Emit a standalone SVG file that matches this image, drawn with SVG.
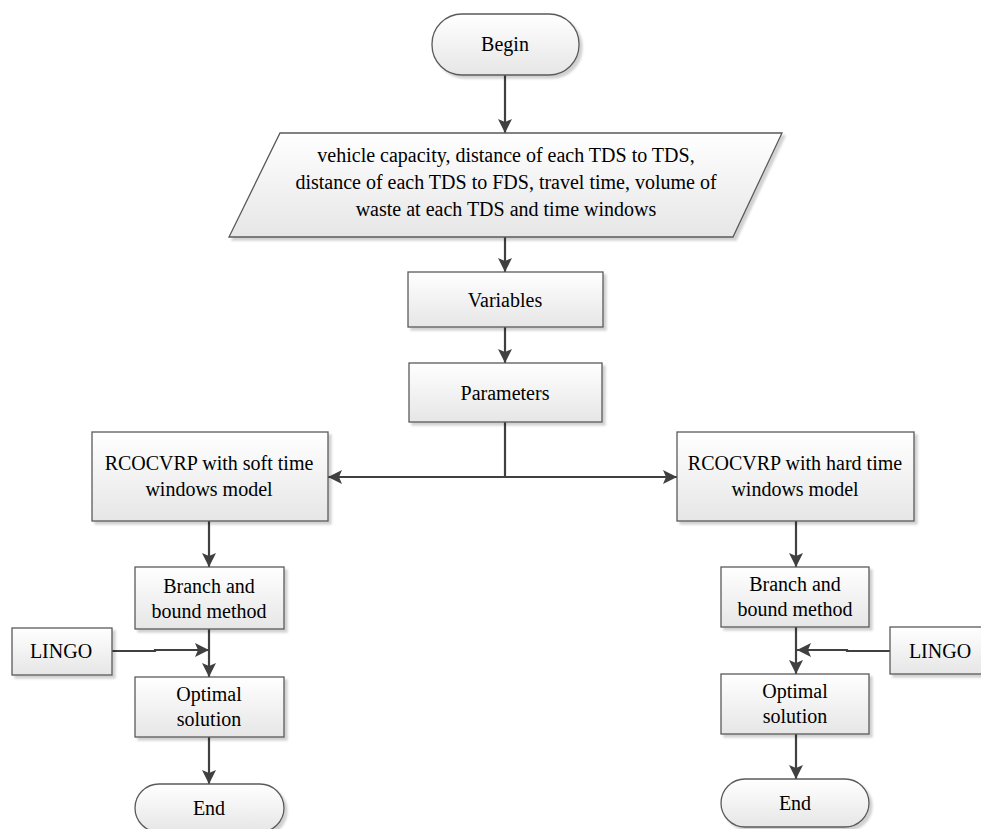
<svg xmlns="http://www.w3.org/2000/svg" width="981" height="829" viewBox="0 0 981 829">
<defs>
<linearGradient id="g" x1="0" y1="0" x2="0" y2="1">
<stop offset="0" stop-color="#ffffff"/>
<stop offset="1" stop-color="#e6e6e6"/>
</linearGradient>
<filter id="sh" x="-10%" y="-10%" width="130%" height="130%">
<feDropShadow dx="3" dy="3" stdDeviation="1" flood-color="#000" flood-opacity="0.18"/>
</filter>
<marker id="ah" markerUnits="userSpaceOnUse" markerWidth="16" markerHeight="16" refX="14" refY="7" orient="auto">
<path d="M0,0 L14,7 L0,14 L3,7 z" fill="#404040"/>
</marker>
</defs>
<style>
.n{fill:url(#g);stroke:#5a5a5a;stroke-width:1.3;filter:url(#sh)}
.t{font-family:"Liberation Serif","Times New Roman",Times,serif;font-size:20px;fill:#000;text-anchor:middle}
.c{fill:none;stroke:#404040;stroke-width:2.2}
.a{marker-end:url(#ah)}
</style>
<rect width="981" height="829" fill="#fff"/>
<g id="connectors">
<path class="c a" d="M505,75 V133"/>
<path class="c a" d="M505,237 V272"/>
<path class="c a" d="M505,327 V363"/>
<path class="c" d="M505,422 V477"/>
<path class="c a" d="M505,477 H328"/>
<path class="c a" d="M505,477 H677"/>
<path class="c a" d="M209,521 V567"/>
<path class="c a" d="M209,629 V677"/>
<path class="c a" d="M209,737 V784"/>
<path class="c a" d="M112,651 H155 V650 H209"/>
<path class="c a" d="M796,521 V567"/>
<path class="c a" d="M796,627 V674"/>
<path class="c a" d="M796,734 V779"/>
<path class="c a" d="M890,651 H847 V650 H797"/>
</g>
<g id="begin">
<rect class="n" x="432" y="14" width="147" height="61" rx="30" ry="30"/>
<text class="t" x="505" y="51">Begin</text>
</g>
<g id="input">
<path class="n" d="M280,133 H782 L733,237 H229 Z"/>
<text class="t" x="506" y="162">vehicle capacity, distance of each TDS to TDS,</text>
<text class="t" x="506" y="189">distance of each TDS to FDS, travel time, volume of</text>
<text class="t" x="506" y="216">waste at each TDS and time windows</text>
</g>
<g id="variables">
<rect class="n" x="408" y="272" width="195" height="55"/>
<text class="t" x="505" y="307">Variables</text>
</g>
<g id="parameters">
<rect class="n" x="409" y="363" width="193" height="59"/>
<text class="t" x="505" y="400">Parameters</text>
</g>
<g id="soft">
<rect class="n" x="92" y="432" width="236" height="89"/>
<text class="t" x="209" y="470">RCOCVRP with soft time</text>
<text class="t" x="209" y="496">windows model</text>
</g>
<g id="hard">
<rect class="n" x="677" y="432" width="237" height="89"/>
<text class="t" x="795" y="470">RCOCVRP with hard time</text>
<text class="t" x="795" y="496">windows model</text>
</g>
<g id="branch-left">
<rect class="n" x="135" y="567" width="149" height="62"/>
<text class="t" x="209" y="593">Branch and</text>
<text class="t" x="209" y="618">bound method</text>
</g>
<g id="lingo-left">
<rect class="n" x="12" y="628" width="100" height="47"/>
<text class="t" x="61" y="658">LINGO</text>
</g>
<g id="optimal-left">
<rect class="n" x="135" y="677" width="149" height="60"/>
<text class="t" x="209" y="701">Optimal</text>
<text class="t" x="209" y="726">solution</text>
</g>
<g id="end-left">
<rect class="n" x="135" y="784" width="149" height="48" rx="24" ry="24"/>
<text class="t" x="209" y="815">End</text>
</g>
<g id="branch-right">
<rect class="n" x="721" y="567" width="148" height="60"/>
<text class="t" x="795" y="591">Branch and</text>
<text class="t" x="795" y="616">bound method</text>
</g>
<g id="lingo-right">
<rect class="n" x="890" y="627" width="99" height="47"/>
<text class="t" x="940" y="658">LINGO</text>
</g>
<g id="optimal-right">
<rect class="n" x="721" y="674" width="148" height="60"/>
<text class="t" x="795" y="698">Optimal</text>
<text class="t" x="795" y="723">solution</text>
</g>
<g id="end-right">
<rect class="n" x="721" y="779" width="148" height="48" rx="24" ry="24"/>
<text class="t" x="795" y="810">End</text>
</g>
</svg>
